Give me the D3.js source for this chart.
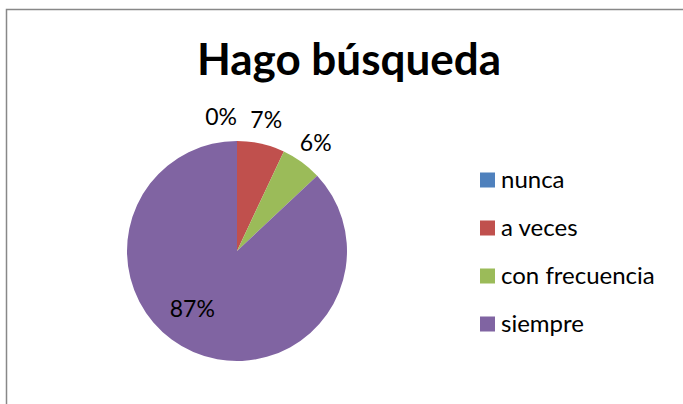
<!DOCTYPE html>
<html>
<head>
<meta charset="utf-8">
<script src="https://cdn.jsdelivr.net/npm/d3@7"></script>
<style>
  body { margin: 0; background: #fff; }
  svg { display: block; font-family: Lato, 'Open Sans', sans-serif; }
</style>
</head>
<body>
<div id="chart"></div>
<script>
const categories = ['nunca', 'a veces', 'con frecuencia', 'siempre']
const percents = [0, 7, 6, 87]
const colors = ['#4F81BD', '#C0504D', '#9BBB59', '#8064A2']
const title = 'Hago búsqueda'

const width = 683
const height = 404
const center = { x: 237, y: 251 }
const radius = 110

const svg = d3.select('#chart')
  .append('svg')
  .attr('width', width)
  .attr('height', height)

// chart area border (runs off the right and bottom edges)
svg.append('rect')
  .attr('x', 6.5)
  .attr('y', 9.5)
  .attr('width', width + 10)
  .attr('height', height + 10)
  .attr('fill', '#fff')
  .attr('stroke', '#888')
  .attr('stroke-width', 1.5)

svg.append('text')
  .attr('x', 349)
  .attr('y', 75)
  .attr('text-anchor', 'middle')
  .attr('font-size', 44)
  .attr('font-weight', 'bold')
  .attr('fill', '#000')
  .text(title)

const data = categories.map((name, i) => ({ name, value: percents[i], color: colors[i] }))

const pie = d3.pie()
  .sort(null)
  .value(d => d.value)

const arc = d3.arc()
  .innerRadius(0)
  .outerRadius(radius)

const g = svg.append('g')
  .attr('transform', `translate(${center.x}, ${center.y})`)

const arcs = pie(data)

g.selectAll('path')
  .data(arcs)
  .join('path')
  .attr('d', arc)
  .attr('fill', d => d.data.color)

// labels: small slices outside end, the dominant slice inside
g.selectAll('text.label')
  .data(arcs)
  .join('text')
  .attr('class', 'label')
  .attr('font-size', 23)
  .attr('fill', '#000')
  .attr('dy', '0.35em')
  .attr('text-anchor', d => d.endAngle - d.startAngle === 0 ? 'end' : 'middle')
  .attr('transform', d => {
    const mid = (d.startAngle + d.endAngle) / 2
    const p = d.data.value > 50
      ? d3.pointRadial(mid + 0.25, 73)
      : d3.pointRadial(mid, 134)
    return `translate(${p[0]}, ${p[1]})`
  })
  .text(d => `${d.data.value}%`)

const legend = svg.append('g')
  .attr('transform', 'translate(480, 180)')

const rows = legend.selectAll('g')
  .data(data)
  .join('g')
  .attr('transform', (d, i) => `translate(0, ${i * 48})`)

rows.append('rect')
  .attr('x', 0)
  .attr('y', -7.5)
  .attr('width', 15)
  .attr('height', 15)
  .attr('fill', d => d.color)

rows.append('text')
  .attr('x', 21)
  .attr('dy', '0.35em')
  .attr('font-size', 24)
  .attr('fill', '#000')
  .text(d => d.name)
</script>
</body>
</html>
